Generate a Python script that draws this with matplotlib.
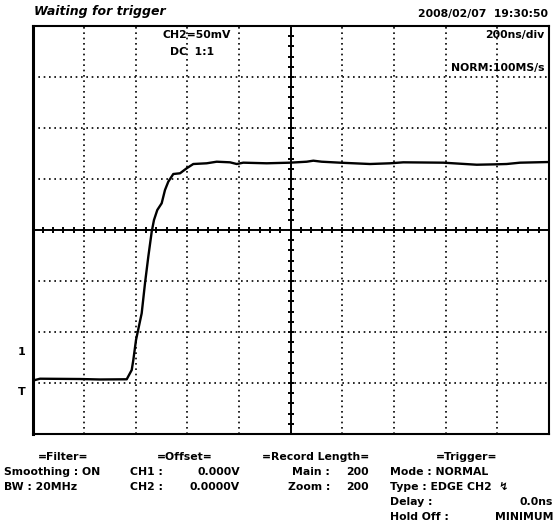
import matplotlib
matplotlib.use('Agg')
import matplotlib.pyplot as plt
import numpy as np

# trace, in divisions (x: 0..10 at 200ns/div, y: 0..8 at 50mV/div)
trace_x = [0.0, 0.145, 0.92, 1.307, 1.824, 1.921, 1.952, 2.004, 2.114, 2.178,
           2.242, 2.308, 2.352, 2.416, 2.501, 2.565, 2.629, 2.726, 2.856, 2.985,
           3.113, 3.373, 3.566, 3.824, 3.954, 4.081, 4.534, 4.985, 5.309, 5.437,
           5.599, 5.954, 6.534, 6.922, 7.179, 7.954, 8.600, 8.987, 9.181, 9.439, 10.0]
trace_y = [1.045, 1.084, 1.078, 1.069, 1.073, 1.255, 1.451, 1.843, 2.367, 2.955,
           3.476, 3.967, 4.196, 4.392, 4.524, 4.784, 4.947, 5.098, 5.112, 5.210,
           5.294, 5.308, 5.339, 5.327, 5.294, 5.320, 5.308, 5.320, 5.339, 5.359,
           5.339, 5.320, 5.294, 5.308, 5.327, 5.320, 5.280, 5.288, 5.294, 5.320, 5.333]

n_xdiv = 10
n_ydiv = 8

header_left = "Waiting for trigger"
header_right = "2008/02/07  19:30:50"
ch_label = ["CH2=50mV", "DC  1:1"]
timebase = "200ns/div"
acq_mode = "NORM:100MS/s"

W, H = 558, 531
fig = plt.figure(figsize=(W / 100, H / 100), dpi=100)
fig.patch.set_facecolor('white')

left, right, top, bottom = 32.5, 549, 26, 434
ax = fig.add_axes([left / W, 1 - bottom / H, (right - left) / W, (bottom - top) / H])
ax.set_xlim(0, n_xdiv)
ax.set_ylim(0, n_ydiv)
ax.set_xticks([])
ax.set_yticks([])
for s in ax.spines.values():
    s.set_linewidth(1.5)
ax.spines['left'].set_linewidth(2.2)

# dotted graticule
for i in range(1, n_xdiv):
    if i != n_xdiv // 2:
        ax.axvline(i, color='black', lw=1.2, linestyle=(0, (1, 2.2)))
for j in range(1, n_ydiv):
    if j != n_ydiv // 2:
        ax.axhline(j, color='black', lw=1.2, linestyle=(0, (1, 2.2)))

# center cross with minor ticks
cx, cy = n_xdiv / 2, n_ydiv / 2
ax.axvline(cx, color='black', lw=1.4)
ax.axhline(cy, color='black', lw=1.4)
tx = np.arange(0.2, n_xdiv, 0.2)
ty = np.arange(0.2, n_ydiv, 0.2)
ax.plot(tx, np.full_like(tx, cy), linestyle='none', marker='|', ms=5, mew=1.4, color='black')
ax.plot(np.full_like(ty, cx), ty, linestyle='none', marker='_', ms=5, mew=1.4, color='black')

ax.plot(trace_x, trace_y, color='black', lw=1.7)


def px(x, y):
    return x / W, 1 - y / H


kw = dict(fontsize=7.8, fontweight='bold', color='black', va='center')
fig.text(*px(34, 12), header_left, fontsize=9, fontweight='bold', style='italic', va='center')
fig.text(*px(548, 14), header_right, ha='right', **kw)
fig.text(*px(197, 35), ch_label[0], ha='center', **kw)
fig.text(*px(192, 52), ch_label[1], ha='center', **kw)
fig.text(*px(544, 35), timebase, ha='right', **kw)
fig.text(*px(544, 68), acq_mode, ha='right', **kw)

# channel / trigger markers on the left edge
fig.text(*px(22, 352), "1", ha='center', fontsize=8, fontweight='bold', va='center')
fig.text(*px(22, 392), "T", ha='center', fontsize=8, fontweight='bold', va='center')

# status block below the screen
rows = [457, 472, 487, 502, 517]
fig.text(*px(63, rows[0]), "=Filter=", ha='center', **kw)
fig.text(*px(4, rows[1]), "Smoothing : ON", ha='left', **kw)
fig.text(*px(4, rows[2]), "BW : 20MHz", ha='left', **kw)

fig.text(*px(185, rows[0]), "=Offset=", ha='center', **kw)
fig.text(*px(130, rows[1]), "CH1 :", ha='left', **kw)
fig.text(*px(240, rows[1]), "0.000V", ha='right', **kw)
fig.text(*px(130, rows[2]), "CH2 :", ha='left', **kw)
fig.text(*px(240, rows[2]), "0.0000V", ha='right', **kw)

fig.text(*px(316, rows[0]), "=Record Length=", ha='center', **kw)
fig.text(*px(330, rows[1]), "Main :", ha='right', **kw)
fig.text(*px(369, rows[1]), "200", ha='right', **kw)
fig.text(*px(330, rows[2]), "Zoom :", ha='right', **kw)
fig.text(*px(369, rows[2]), "200", ha='right', **kw)

fig.text(*px(467, rows[0]), "=Trigger=", ha='center', **kw)
fig.text(*px(390, rows[1]), "Mode : NORMAL", ha='left', **kw)
fig.text(*px(390, rows[2]), "Type : EDGE CH2  \u21af", ha='left', **kw)
fig.text(*px(390, rows[3]), "Delay :", ha='left', **kw)
fig.text(*px(553, rows[3]), "0.0ns", ha='right', **kw)
fig.text(*px(390, rows[4]), "Hold Off :", ha='left', **kw)
fig.text(*px(553, rows[4]), "MINIMUM", ha='right', **kw)

fig.savefig('out.png', dpi=100)
